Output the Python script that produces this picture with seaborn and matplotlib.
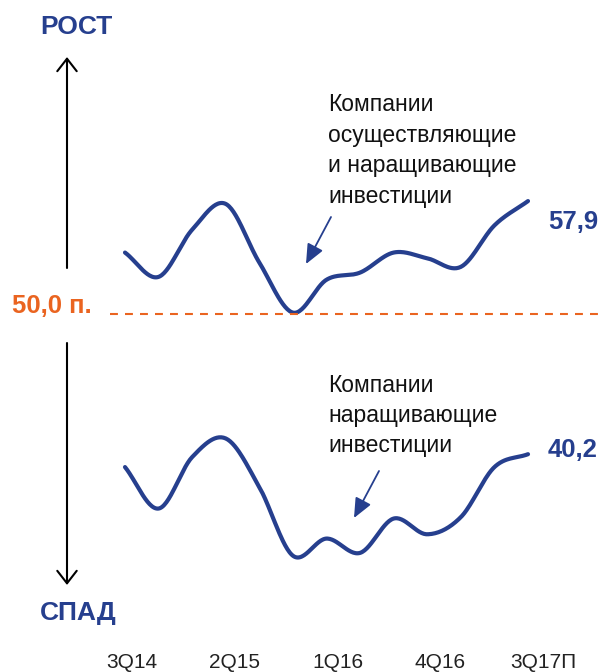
import numpy as np
import pandas as pd
import matplotlib
matplotlib.use('Agg')
import matplotlib.pyplot as plt
import seaborn as sns

# quarters 3Q14 .. 3Q17 (forecast)
quarters = ['3Q14', '4Q14', '1Q15', '2Q15', '3Q15', '4Q15', '1Q16',
            '2Q16', '3Q16', '4Q16', '1Q17', '2Q17', '3Q17П']
tick_labels = ['3Q14', '2Q15', '1Q16', '4Q16', '3Q17П']
tick_idx = [0, 3, 6, 9, 12]

# "осуществляющие и наращивающие"
invest_all = [54.3, 52.6, 55.9, 57.7, 53.6, 50.1, 52.4,
              52.9, 54.3, 53.9, 53.3, 56.2, 57.9]
# "наращивающие"
invest_grow = [39.3, 36.4, 40.0, 41.3, 37.9, 33.1, 34.3,
               33.3, 35.7, 34.6, 35.8, 39.3, 40.2]

BLUE = '#263f8e'
ORANGE = '#ea6420'


def smooth(y, n=30):
    # cubic hermite through the points, just for drawing a soft curve
    y = np.asarray(y, float)
    m = np.gradient(y)
    xs, ys = [], []
    for i in range(len(y) - 1):
        t = np.linspace(0, 1, n, endpoint=False)
        h00 = 2*t**3 - 3*t**2 + 1
        h10 = t**3 - 2*t**2 + t
        h01 = -2*t**3 + 3*t**2
        h11 = t**3 - t**2
        xs.append(i + t)
        ys.append(h00*y[i] + h10*m[i] + h01*y[i+1] + h11*m[i+1])
    xs.append([len(y) - 1])
    ys.append([y[-1]])
    return np.concatenate(xs), np.concatenate(ys)


sns.set_theme(style='white')
plt.rcParams['font.family'] = ['Liberation Sans', 'DejaVu Sans']

fig = plt.figure(figsize=(6.03, 6.72), dpi=100)
ax = fig.add_axes([0, 0, 1, 1])

rows = []
for name, vals in [('all', invest_all), ('grow', invest_grow)]:
    xs, ys = smooth(vals)
    rows.append(pd.DataFrame({'x': xs, 'y': ys, 'series': name}))
df = pd.concat(rows, ignore_index=True)

sns.lineplot(data=df, x='x', y='y', units='series', estimator=None,
             sort=False, color=BLUE, linewidth=3.0, ax=ax,
             solid_capstyle='round')

ax.axhline(50, xmin=110/603, xmax=1, color=ORANGE, lw=1.5,
           linestyle=(0, (3.8, 3.4)))

ax.set_xlim(-3.722, 14.233)
ax.set_ylim(24.97, 71.96)
ax.axis('off')

W, H = 603, 672
def fx(px):
    return px / W
def fy(py):
    return 1 - py / H

# direction arrows
head = dict(arrowstyle='->,head_length=0.45,head_width=0.35',
            color='black', lw=1.5, mutation_scale=20, shrinkA=0, shrinkB=0)
ax.annotate('', xy=(fx(67), fy(57)), xytext=(fx(67), fy(268)),
            xycoords='figure fraction', textcoords='figure fraction',
            arrowprops=head)
ax.annotate('', xy=(fx(67), fy(585)), xytext=(fx(67), fy(343)),
            xycoords='figure fraction', textcoords='figure fraction',
            arrowprops=head)

fig.text(fx(76), fy(27), 'РОСТ', color=BLUE, fontsize=19, fontweight='bold',
         ha='center', va='center')
fig.text(fx(78), fy(613), 'СПАД', color=BLUE, fontsize=19, fontweight='bold',
         ha='center', va='center')
fig.text(fx(12), fy(306), '50,0 п.', color=ORANGE, fontsize=18.5,
         fontweight='bold', ha='left', va='center')

# end values
ax.annotate(f'{invest_all[-1]:.1f}'.replace('.', ','), xy=(12, invest_all[-1]),
            xytext=(20, -21), textcoords='offset pixels', color=BLUE,
            fontsize=18.5, fontweight='bold', ha='left', va='center')
ax.annotate(f'{invest_grow[-1]:.1f}'.replace('.', ','), xy=(12, invest_grow[-1]),
            xytext=(20, 4), textcoords='offset pixels', color=BLUE,
            fontsize=18.5, fontweight='bold', ha='left', va='center')

# series notes
fig.text(fx(328), fy(203), 'Компании\nосуществляющие\nи наращивающие\nинвестиции',
         fontsize=16.5, color='#111111', ha='left', va='baseline',
         linespacing=1.43)
fig.text(fx(328), fy(452), 'Компании\nнаращивающие\nинвестиции',
         fontsize=16.5, color='#111111', ha='left', va='baseline',
         linespacing=1.38)

arrow_kw = dict(arrowstyle='-|>,head_length=0.8,head_width=0.35',
                color=BLUE, lw=1.3, mutation_scale=15, shrinkA=0, shrinkB=0)
ax.annotate('', xy=(fx(306), fy(264)), xytext=(fx(331), fy(217)),
            xycoords='figure fraction', textcoords='figure fraction',
            arrowprops=arrow_kw)
ax.annotate('', xy=(fx(354), fy(518)), xytext=(fx(379), fy(471)),
            xycoords='figure fraction', textcoords='figure fraction',
            arrowprops=arrow_kw)

# quarter labels along the bottom
for i, lab in zip(tick_idx, tick_labels):
    ax.annotate(lab, xy=(i, 0), xycoords=('data', 'figure fraction'),
                xytext=(7 + i * 0.7, 4), textcoords='offset pixels',
                fontsize=15, color='#222222', ha='center', va='baseline')

fig.savefig('out.png', dpi=100)
